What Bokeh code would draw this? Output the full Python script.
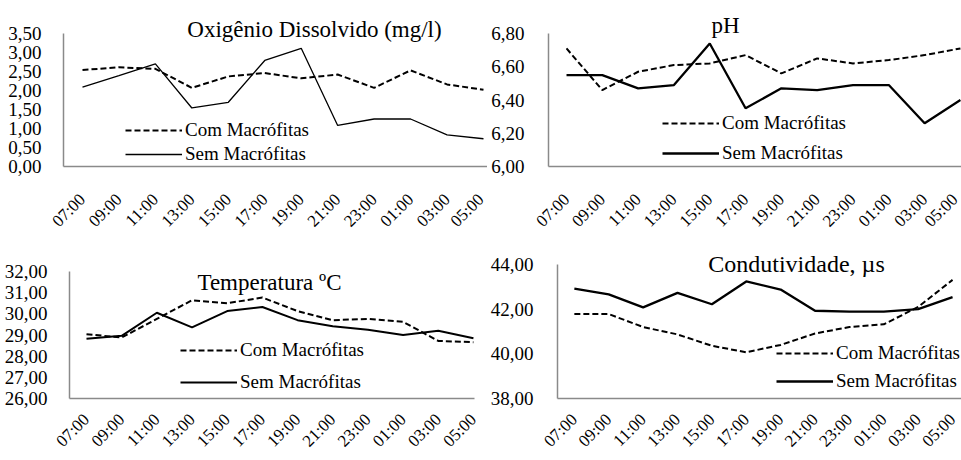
from math import pi
from bokeh.plotting import figure
from bokeh.models import Range1d, FixedTicker, Legend, LegendItem, Label, CustomJSTickFormatter
from bokeh.layouts import column, row
from bokeh.embed import file_html
from bokeh.resources import INLINE

times = ["07:00", "09:00", "11:00", "13:00", "15:00", "17:00",
         "19:00", "21:00", "23:00", "01:00", "03:00", "05:00"]

od_com = [2.54, 2.61, 2.57, 2.07, 2.37, 2.46, 2.32, 2.42, 2.07, 2.53, 2.16, 2.02]
od_sem = [2.09, 2.39, 2.70, 1.54, 1.69, 2.79, 3.11, 1.08, 1.25, 1.25, 0.83, 0.73]
od_ticks = [0.0, 0.5, 1.0, 1.5, 2.0, 2.5, 3.0, 3.5]

ph_com = [6.71, 6.46, 6.57, 6.61, 6.62, 6.67, 6.56, 6.65, 6.62, 6.64, 6.67, 6.71]
ph_sem = [6.55, 6.55, 6.47, 6.49, 6.74, 6.35, 6.47, 6.46, 6.49, 6.49, 6.26, 6.40]
ph_ticks = [6.0, 6.2, 6.4, 6.6, 6.8]

temp_com = [29.04, 28.88, 29.76, 30.64, 30.50, 30.77, 30.13, 29.70, 29.76, 29.62, 28.72, 28.66]
temp_sem = [28.82, 28.96, 30.05, 29.36, 30.13, 30.32, 29.70, 29.41, 29.25, 29.00, 29.20, 28.85]
temp_ticks = [26, 27, 28, 29, 30, 31, 32]

cond_com = [41.78, 41.78, 41.20, 40.87, 40.36, 40.07, 40.40, 40.91, 41.20, 41.32, 42.10, 43.31]
cond_sem = [42.92, 42.66, 42.08, 42.73, 42.22, 43.24, 42.88, 41.93, 41.89, 41.89, 42.00, 42.54]
cond_ticks = [38, 40, 42, 44]

series_labels = ["Com Macrófitas", "Sem Macrófitas"]
titles = ["Oxigênio Dissolvido (mg/l)", "pH", "Temperatura ºC", "Condutividade, µs"]

FONT = "Liberation Serif"


def make_panel(title, com, sem, ticks, width, height, bl, br, bb,
               x_start, x_end, tick_top_gap, title_xy, title_size, legend_xy, spacing,
               sem_width, y_standoff, x_standoff):
    """Frame spans from the top of the figure down to the x axis; the y axis line
    is bounded to the tick range so titles and legends sit inside the frame."""
    idx = list(range(len(times)))
    frame_h = height - bb
    t0, t1 = ticks[0], ticks[-1]
    y_end = t1 + tick_top_gap * (t1 - t0) / (frame_h - tick_top_gap)
    p = figure(width=width, height=height, output_backend="svg", toolbar_location=None,
               x_range=Range1d(x_start, x_end), y_range=Range1d(t0, y_end),
               min_border_left=bl, min_border_right=br, min_border_top=0,
               min_border_bottom=bb)
    p.outline_line_color = None
    p.background_fill_color = "white"
    p.border_fill_color = "white"
    p.xgrid.visible = False
    p.ygrid.visible = False

    r_com = p.line(idx, com, line_color="black", line_width=2, line_dash="6 3")
    r_sem = p.line(idx, sem, line_color="black", line_width=sem_width)

    for ax in (p.xaxis[0], p.yaxis[0]):
        ax.axis_line_color = "#8a8a8a"
        ax.axis_line_width = 1.5
        ax.major_tick_line_color = None
        ax.minor_tick_line_color = None
        ax.major_label_text_font = FONT
        ax.major_label_text_color = "black"

    p.yaxis.bounds = (t0, t1)
    p.yaxis.ticker = FixedTicker(ticks=ticks)
    p.yaxis.formatter = CustomJSTickFormatter(code="return tick.toFixed(2).replace('.', ',');")
    p.yaxis.major_label_text_font_size = "19px"
    p.yaxis.major_label_standoff = y_standoff

    p.xaxis.ticker = FixedTicker(ticks=idx)
    p.xaxis.major_label_overrides = {i: t for i, t in enumerate(times)}
    p.xaxis.major_label_orientation = pi / 4
    p.xaxis.major_label_text_font_size = "17px"
    p.xaxis.major_label_standoff = x_standoff

    legend = Legend(
        items=[LegendItem(label=series_labels[0], renderers=[r_com]),
               LegendItem(label=series_labels[1], renderers=[r_sem])],
        location=legend_xy, glyph_width=57, glyph_height=20, label_height=20,
        label_standoff=3, spacing=spacing, padding=0, margin=0,
        background_fill_alpha=0, border_line_alpha=0,
        label_text_font=FONT, label_text_font_size="19px", label_text_color="black")
    p.add_layout(legend)

    p.add_layout(Label(x=title_xy[0], y=title_xy[1], x_units="screen", y_units="screen",
                       text=title, text_font=FONT, text_font_size=title_size,
                       text_align="center", text_baseline="middle", text_color="black"))
    return p


p1 = make_panel(titles[0], od_com, od_sem, od_ticks, 487, 240, 63, 0, 74,
                -0.521, 11.11, 33, (251, 137.5), "23px", (62, 1), 2, 1.3, 16, 24)
p2 = make_panel(titles[1], ph_com, ph_sem, ph_ticks, 474, 240, 61, 0, 74,
                -0.503, 11.03, 33, (177, 141), "23px", (114, 2), 8, 2.3, 18, 24)
p3 = make_panel(titles[2], temp_com, temp_sem, temp_ticks, 487, 220, 69, 13, 62,
                -0.483, 11.03, 31, (200, 116), "23px", (111, 5), 10, 2.0, 16, 12)
p4 = make_panel(titles[3], cond_com, cond_sem, cond_ticks, 474, 220, 66, 0, 62,
                -0.49, 11.26, 24, (239, 135), "24px", (219, 6), 6, 2.3, 18, 12)

layout = column(row(p1, p2), row(p3, p4))

with open("out.html", "w") as f:
    f.write(file_html(layout, INLINE))
